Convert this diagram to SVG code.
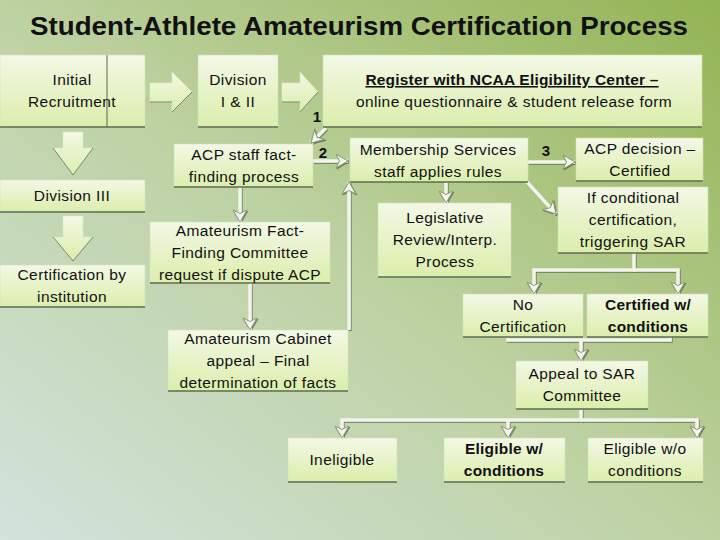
<svg xmlns="http://www.w3.org/2000/svg" width="720" height="540" viewBox="0 0 720 540">
<defs>
<linearGradient id="bg" x1="0" y1="1" x2="1" y2="0">
<stop offset="0" stop-color="#d2e3dc"/>
<stop offset="0.5" stop-color="#bdd1a1"/>
<stop offset="1" stop-color="#93b453"/>
</linearGradient>
<linearGradient id="boxg" x1="0" y1="0" x2="0" y2="1">
<stop offset="0" stop-color="#f3f8e6"/>
<stop offset="1" stop-color="#dbeeab"/>
</linearGradient>
<filter id="sh" x="-10%" y="-10%" width="120%" height="130%">
<feDropShadow dx="0.8" dy="1" stdDeviation="0.6" flood-color="#4f5a44" flood-opacity="0.75"/>
</filter>
<marker id="ah" markerUnits="userSpaceOnUse" markerWidth="16" markerHeight="16" refX="13" refY="8" orient="auto">
<path d="M1,1 L13,8 L1,15 L4.5,8 z" fill="#f4f6ee" stroke="#8a9676" stroke-width="1"/>
</marker>
</defs>
<style>
.box{fill:url(#boxg);stroke:#d4e2b8;stroke-width:0.6}
.edge{stroke:#5f6a52;stroke-width:1.4;fill:none}
.t{font-family:"Liberation Sans",Arial,sans-serif;font-size:15.5px;letter-spacing:0.4px;fill:#111;text-anchor:middle}
.b{font-weight:bold;letter-spacing:0.2px}
.num{font-family:"Liberation Sans",Arial,sans-serif;font-size:15px;font-weight:bold;fill:#111;text-anchor:middle}
.cn{fill:none;stroke:#f3f5ec;stroke-width:3.5;marker-end:url(#ah)}
.cl{fill:none;stroke:#f3f5ec;stroke-width:3.5}
.blk{fill:url(#boxg);stroke:#dfe9c8;stroke-width:0.6}
.blke{fill:none;stroke:#77856a;stroke-width:1}
</style>
<rect width="720" height="540" fill="url(#bg)"/>
<text x="359" y="35" font-family="'Liberation Sans',Arial,sans-serif" font-size="26" font-weight="bold" fill="#111" text-anchor="middle" textLength="658" lengthAdjust="spacingAndGlyphs">Student-Athlete Amateurism Certification Process</text>

<g id="block-arrows">
<polygon class="blk" points="150,83 172,83 172,72 192,92 172,112 172,102 150,102"/>
<path class="blke" d="M150,102 H172 M172,112 L192,92"/>
<polygon class="blk" points="282,83 300,83 300,72 318,92 300,112 300,102 282,102"/>
<path class="blke" d="M282,102 H300 M300,112 L318,92"/>
<polygon class="blk" points="63,132 83,132 83,148 93,148 73,175 53,148 63,148"/>
<path class="blke" d="M53,148 L73,175 L93,148"/>
<polygon class="blk" points="63,216 83,216 83,237 93,237 73,261 53,237 63,237"/>
<path class="blke" d="M53,237 L73,261 L93,237"/>
</g>

<g id="connectors" filter="url(#sh)">
<path class="cn" d="M326,128 L311,143"/>
<path class="cn" d="M313,161 H348"/>
<path class="cn" d="M528,162 H575"/>
<path class="cn" d="M240,187 V222"/>
<path class="cn" d="M250,283 V330"/>
<path class="cn" d="M349,330 V182"/>
<path class="cn" d="M446,182 V203"/>
<path class="cn" d="M527,182 L556,214"/>
<path class="cn" d="M634,253 V270 H534 V294"/>
<path class="cn" d="M634,270 H678 V294"/>
<path class="cl" d="M508,337 V340 H670 V337"/>
<path class="cn" d="M581,340 V361"/>
<path class="cn" d="M581,409 V420 H342 V438"/>
<path class="cn" d="M581,420 H697 V438"/>
<path class="cn" d="M508,420 V438"/>
</g>

<g id="n-initial"><rect class="box" x="0" y="55" width="145" height="72"/><path class="edge" d="M0,127 H145"/><path d="M107,55 V127" stroke="#5a6450" stroke-width="1"/><text class="t" x="72" y="85">Initial</text><text class="t" x="72" y="107">Recruitment</text></g>
<g id="n-div12"><rect class="box" x="198" y="55" width="80" height="72"/><path class="edge" d="M198,127 H278"/><text class="t" x="238" y="85">Division</text><text class="t" x="238" y="107">I &amp; II</text></g>
<g id="n-register"><rect class="box" x="323" y="55" width="379" height="72"/><path class="edge" d="M323,127 H702"/><text class="t b" x="512" y="85" text-decoration="underline">Register with NCAA Eligibility Center –</text><text class="t" x="514" y="107">online questionnaire &amp; student release form</text></g>
<g id="n-acpstaff"><rect class="box" x="174" y="144" width="139" height="43"/><path class="edge" d="M174,187 H313"/><text class="t" x="244" y="160">ACP staff fact-</text><text class="t" x="244" y="182">finding process</text></g>
<g id="n-membership"><rect class="box" x="350" y="138" width="178" height="44"/><path class="edge" d="M350,182 H528"/><text class="t" x="438" y="155">Membership Services</text><text class="t" x="438" y="177">staff applies rules</text></g>
<g id="n-acpdecision"><rect class="box" x="576" y="138" width="127" height="43"/><path class="edge" d="M576,181 H703"/><text class="t" x="640" y="154">ACP decision –</text><text class="t" x="640" y="176">Certified</text></g>
<g id="n-conditional"><rect class="box" x="558" y="187" width="150" height="66"/><path class="edge" d="M558,253 H708"/><text class="t" x="633" y="203">If conditional</text><text class="t" x="633" y="225">certification,</text><text class="t" x="633" y="247">triggering SAR</text></g>
<g id="n-div3"><rect class="box" x="0" y="180" width="145" height="32"/><path class="edge" d="M0,212 H145"/><text class="t" x="72" y="201">Division III</text></g>
<g id="n-certinst"><rect class="box" x="0" y="265" width="145" height="42"/><path class="edge" d="M0,307 H145"/><text class="t" x="72" y="280">Certification by</text><text class="t" x="72" y="302">institution</text></g>
<g id="n-factfinding"><rect class="box" x="150" y="222" width="180" height="61"/><path class="edge" d="M150,283 H330"/><text class="t" x="240" y="236">Amateurism Fact-</text><text class="t" x="240" y="258">Finding Committee</text><text class="t" x="240" y="280">request if dispute ACP</text></g>
<g id="n-legislative"><rect class="box" x="378" y="203" width="133" height="74"/><path class="edge" d="M378,277 H511"/><text class="t" x="445" y="223">Legislative</text><text class="t" x="445" y="245">Review/Interp.</text><text class="t" x="445" y="267">Process</text></g>
<g id="n-nocert"><rect class="box" x="463" y="294" width="120" height="43"/><path class="edge" d="M463,337 H583"/><text class="t" x="523" y="310">No</text><text class="t" x="523" y="332">Certification</text></g>
<g id="n-certcond"><rect class="box" x="587" y="294" width="121" height="43"/><path class="edge" d="M587,337 H708"/><text class="t b" x="648" y="310">Certified w/</text><text class="t b" x="648" y="332">conditions</text></g>
<g id="n-cabinet"><rect class="box" x="168" y="330" width="180" height="61"/><path class="edge" d="M168,391 H348"/><text class="t" x="258" y="344">Amateurism Cabinet</text><text class="t" x="258" y="366">appeal – Final</text><text class="t" x="258" y="388">determination of facts</text></g>
<g id="n-appeal"><rect class="box" x="516" y="361" width="132" height="48"/><path class="edge" d="M516,409 H648"/><text class="t" x="582" y="379">Appeal to SAR</text><text class="t" x="582" y="401">Committee</text></g>
<g id="n-ineligible"><rect class="box" x="288" y="438" width="109" height="44"/><path class="edge" d="M288,482 H397"/><text class="t" x="342" y="465">Ineligible</text></g>
<g id="n-eligw"><rect class="box" x="444" y="438" width="121" height="44"/><path class="edge" d="M444,482 H565"/><text class="t b" x="504" y="454">Eligible w/</text><text class="t b" x="504" y="476">conditions</text></g>
<g id="n-eligwo"><rect class="box" x="588" y="438" width="115" height="44"/><path class="edge" d="M588,482 H703"/><text class="t" x="645" y="454">Eligible w/o</text><text class="t" x="645" y="476">conditions</text></g>

<g id="labels">
<text class="num" x="317" y="122">1</text>
<text class="num" x="323" y="158">2</text>
<text class="num" x="546" y="156">3</text>
</g>
</svg>
